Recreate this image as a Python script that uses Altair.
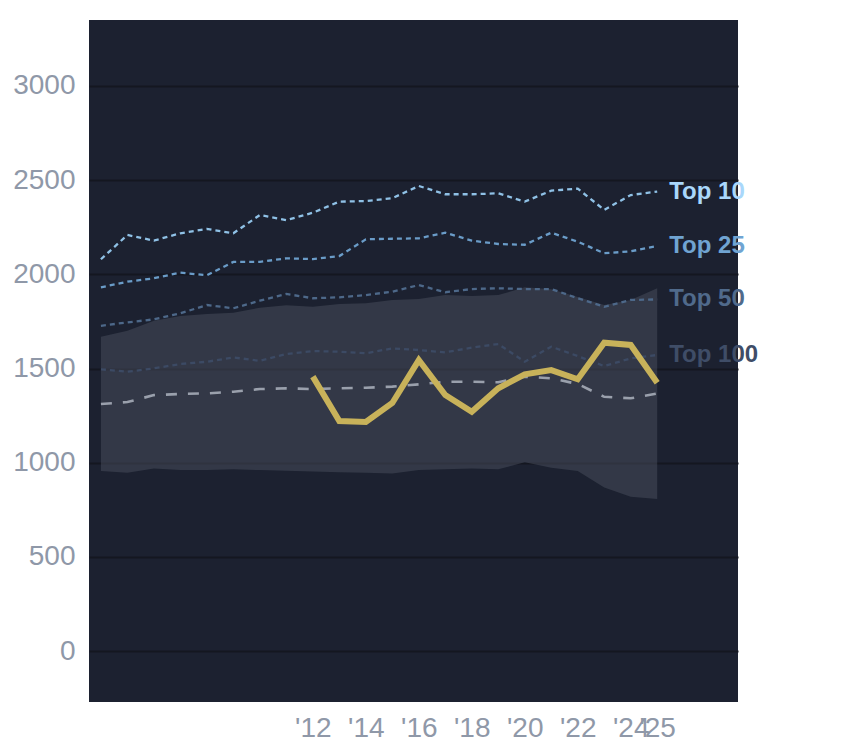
import altair as alt
import pandas as pd

years = list(range(2004, 2026))

top10 = [2080, 2209, 2179, 2218, 2241, 2218, 2315, 2288, 2327, 2386, 2389,
         2404, 2469, 2425, 2425, 2430, 2386, 2444, 2455, 2342, 2421, 2439]
top25 = [1931, 1961, 1979, 2009, 1995, 2066, 2066, 2085, 2081, 2097, 2186,
         2189, 2191, 2221, 2179, 2161, 2157, 2221, 2173, 2112, 2122, 2150]
top50 = [1727, 1745, 1761, 1793, 1837, 1820, 1860, 1896, 1873, 1878, 1890,
         1908, 1943, 1905, 1922, 1926, 1922, 1922, 1873, 1828, 1864, 1867]
top100 = [1496, 1483, 1501, 1524, 1536, 1559, 1541, 1577, 1593, 1589, 1581,
          1607, 1598, 1586, 1611, 1630, 1536, 1616, 1566, 1513, 1554, 1572]
median = [1312, 1322, 1359, 1365, 1368, 1377, 1391, 1395, 1391, 1395, 1398,
          1404, 1416, 1430, 1430, 1427, 1457, 1448, 1418, 1350, 1342, 1368]
band_hi = [1669, 1701, 1754, 1779, 1789, 1796, 1823, 1836, 1828, 1843, 1846,
           1864, 1869, 1890, 1885, 1890, 1931, 1921, 1880, 1837, 1864, 1926]
band_lo = [956, 947, 970, 961, 961, 965, 961, 957, 954, 950, 947,
           943, 961, 966, 970, 966, 1002, 973, 956, 869, 819, 807]

player_years = list(range(2012, 2026))
player = [1457, 1221, 1216, 1317, 1545, 1359, 1271, 1395, 1469, 1492, 1443,
          1637, 1625, 1425]

series_names = ["Top 10", "Top 25", "Top 50", "Top 100"]
series_values = [top10, top25, top50, top100]
line_colors = ["#8fc1e6", "#6a9cc8", "#4d6889", "#3c4a64"]
label_colors = ["#a9d7fb", "#70a4d2", "#506a8b", "#3f4d67"]

x_ticks = [2012, 2014, 2016, 2018, 2020, 2022, 2024, 2025]
y_ticks = [0, 500, 1000, 1500, 2000, 2500, 3000]

FONT = "Arial"

xscale = alt.Scale(domain=[2003.55, 2028.05], nice=False, zero=False)
yscale = alt.Scale(domain=[-270, 3350], nice=False, zero=False)

xaxis = alt.Axis(values=x_ticks, labelExpr="\"'\" + substring(toString(datum.value), 2)",
                 grid=False, ticks=False, domain=False, labelFontSize=28,
                 labelColor="#8f98a8", labelPadding=12, labelOverlap=False,
                 labelFont=FONT, title=None, labelFlush=False)
yaxis = alt.Axis(values=y_ticks, format="d", grid=True, gridColor="#141720", gridWidth=2,
                 ticks=False, domain=False, labelFontSize=28, labelColor="#8f98a8",
                 labelPadding=14, labelFont=FONT, title=None)

band_df = pd.DataFrame({"year": years, "lo": band_lo, "hi": band_hi})
band = alt.Chart(band_df).mark_area(color="#4a4f5e", opacity=0.5).encode(
    x=alt.X("year:Q", scale=xscale, axis=xaxis),
    y=alt.Y("lo:Q", scale=yscale, axis=yaxis),
    y2="hi:Q",
)

layers = [band]
for name, vals, col in zip(series_names, series_values, line_colors):
    df = pd.DataFrame({"year": years, "value": vals})
    layers.append(
        alt.Chart(df).mark_line(color=col, strokeWidth=2.3, strokeDash=[5, 4]).encode(
            x=alt.X("year:Q", scale=xscale), y=alt.Y("value:Q", scale=yscale)
        )
    )

med_df = pd.DataFrame({"year": years, "value": median})
layers.append(
    alt.Chart(med_df).mark_line(color="#9aa0ac", strokeWidth=2.6, strokeDash=[11, 11]).encode(
        x=alt.X("year:Q", scale=xscale), y=alt.Y("value:Q", scale=yscale)
    )
)

pl_df = pd.DataFrame({"year": player_years, "value": player})
layers.append(
    alt.Chart(pl_df).mark_line(color="#c8b25a", strokeWidth=6, strokeJoin="miter").encode(
        x=alt.X("year:Q", scale=xscale), y=alt.Y("value:Q", scale=yscale)
    )
)

lab_df = pd.DataFrame({
    "year": [years[-1]] * 4,
    "value": [v[-1] for v in series_values],
    "name": series_names,
})
labels = alt.Chart(lab_df).mark_text(
    align="left", baseline="middle", dx=12, fontSize=24, fontWeight="bold",
    font=FONT
).encode(
    x=alt.X("year:Q", scale=xscale),
    y=alt.Y("value:Q", scale=yscale),
    text="name:N",
    color=alt.Color("name:N", scale=alt.Scale(domain=series_names, range=label_colors), legend=None),
)
layers.append(labels)

chart = alt.layer(*layers).properties(
    width=649, height=682,
    padding={"left": 4, "top": 12, "right": 5, "bottom": 5},
    background="white",
).configure_view(fill="#1c2130", stroke=None)

chart.save("out.html", embed_options={"renderer": "svg", "actions": False})
